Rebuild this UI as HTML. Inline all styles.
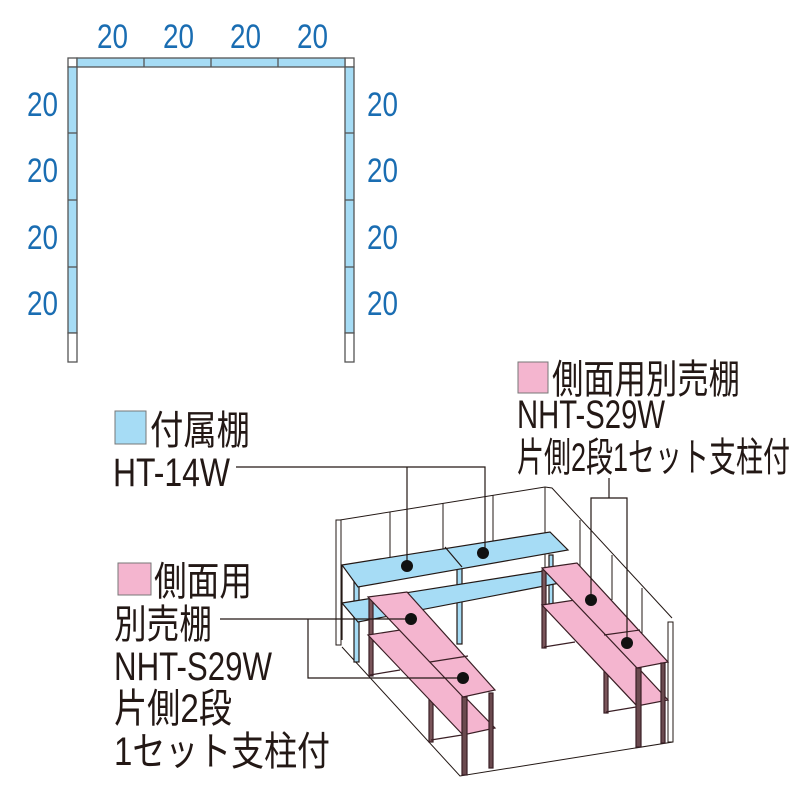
<!DOCTYPE html>
<html><head><meta charset="utf-8"><style>
html,body{margin:0;padding:0;background:#fff;width:800px;height:800px;overflow:hidden}
svg{display:block}
.d{font-family:"Liberation Sans Narrow","Liberation Sans",sans-serif;font-size:34px;fill:#1a6db2}
.t{font-family:"Liberation Sans Narrow","Liberation Sans","Noto Sans CJK JP",sans-serif;font-size:40px;fill:#231815}
</style></head><body>
<svg width="800" height="800" viewBox="0 0 800 800" xmlns="http://www.w3.org/2000/svg">
<g stroke="#555" stroke-width="1.3">
<rect x="68" y="58" width="9" height="9" fill="#fff"/>
<rect x="345" y="58" width="9" height="9" fill="#fff"/>
<rect x="77" y="58" width="268" height="9" fill="#a6dcf5"/>
<line x1="144" y1="58" x2="144" y2="67"/><line x1="211" y1="58" x2="211" y2="67"/><line x1="278" y1="58" x2="278" y2="67"/>
<rect x="68" y="67" width="9" height="266" fill="#a6dcf5"/>
<rect x="345" y="67" width="9" height="266" fill="#a6dcf5"/>
<line x1="68" y1="133" x2="77" y2="133"/><line x1="68" y1="200" x2="77" y2="200"/><line x1="68" y1="267" x2="77" y2="267"/>
<line x1="345" y1="133" x2="354" y2="133"/><line x1="345" y1="200" x2="354" y2="200"/><line x1="345" y1="267" x2="354" y2="267"/>
<rect x="68" y="333" width="9" height="29" fill="#fff"/>
<rect x="345" y="333" width="9" height="29" fill="#fff"/>
</g>
<g class="d">
<text x="97" y="48" textLength="31" lengthAdjust="spacingAndGlyphs">20</text>
<text x="163" y="48" textLength="31" lengthAdjust="spacingAndGlyphs">20</text>
<text x="230" y="48" textLength="31" lengthAdjust="spacingAndGlyphs">20</text>
<text x="297" y="48" textLength="31" lengthAdjust="spacingAndGlyphs">20</text>
<text x="27" y="116" textLength="31" lengthAdjust="spacingAndGlyphs">20</text>
<text x="27" y="182" textLength="31" lengthAdjust="spacingAndGlyphs">20</text>
<text x="27" y="249" textLength="31" lengthAdjust="spacingAndGlyphs">20</text>
<text x="27" y="315" textLength="31" lengthAdjust="spacingAndGlyphs">20</text>
<text x="367" y="116" textLength="31" lengthAdjust="spacingAndGlyphs">20</text>
<text x="367" y="182" textLength="31" lengthAdjust="spacingAndGlyphs">20</text>
<text x="367" y="249" textLength="31" lengthAdjust="spacingAndGlyphs">20</text>
<text x="367" y="315" textLength="31" lengthAdjust="spacingAndGlyphs">20</text>
</g>
<rect x="115" y="411" width="31" height="33" fill="#a6dcf5" stroke="#777"/>
<text class="t" x="150" y="444" textLength="100" lengthAdjust="spacingAndGlyphs">付属棚</text>
<text class="t" x="113" y="486" textLength="117" lengthAdjust="spacingAndGlyphs">HT-14W</text>
<rect x="518" y="362" width="30" height="31" fill="#f4b5cf" stroke="#777"/>
<text class="t" x="552" y="393" textLength="188" lengthAdjust="spacingAndGlyphs">側面用別売棚</text>
<text class="t" x="517" y="428" textLength="148" lengthAdjust="spacingAndGlyphs">NHT-S29W</text>
<text class="t" x="517" y="471" textLength="273" lengthAdjust="spacingAndGlyphs">片側2段1セット支柱付</text>
<rect x="118" y="563" width="33" height="32" fill="#f4b5cf" stroke="#777"/>
<text class="t" x="154" y="595" textLength="98" lengthAdjust="spacingAndGlyphs">側面用</text>
<text class="t" x="114" y="638" textLength="98" lengthAdjust="spacingAndGlyphs">別売棚</text>
<text class="t" x="114" y="680" textLength="158" lengthAdjust="spacingAndGlyphs">NHT-S29W</text>
<text class="t" x="114" y="722" textLength="118" lengthAdjust="spacingAndGlyphs">片側2段</text>
<text class="t" x="114" y="765" textLength="216" lengthAdjust="spacingAndGlyphs">1セット支柱付</text>
<g stroke="#231815" stroke-width="1" fill="none">
<polyline points="340,520 545,487 552,488 672,618"/>
<polyline points="342,647 460,776 673,742"/>
<rect x="336" y="520" width="5" height="125" fill="#fff"/>
<rect x="668" y="622" width="5" height="120" fill="#fff"/>
<line x1="545" y1="487" x2="545" y2="575"/>
<line x1="390" y1="512" x2="390" y2="560"/>
<line x1="443" y1="503" x2="443" y2="555"/>
<line x1="493" y1="495" x2="493" y2="545"/>
<line x1="580" y1="520" x2="580" y2="600"/>
<line x1="612" y1="555" x2="612" y2="600"/>
<line x1="642" y1="588" x2="642" y2="640"/>
</g>
<g stroke="#231815" stroke-width="1.2" fill="#a6dcf5">
<rect x="354" y="572" width="5" height="90"/>
<rect x="457" y="567" width="5" height="77"/>
<rect x="549" y="555" width="4" height="55"/>
<polygon points="342,603 550,570 565,582 358,622"/>
<polygon points="342,565 550,532 568,550 358,587"/>
<line x1="445" y1="547" x2="462" y2="567"/>
<polyline points="342,565 342,640"/>
</g>
<g stroke="#3a1f25" stroke-width="1.2" fill="#f4b5cf">
<rect x="369" y="598" width="4" height="78" fill="#7a555a"/>
<rect x="429" y="662" width="4" height="80" fill="#7a555a"/>
<line x1="370" y1="675" x2="400" y2="670"/>
<line x1="431" y1="740" x2="462" y2="735"/>
<polygon points="368,635 400,630 495,728 463,735"/>
<polygon points="368,597 407,592 495,690 463,697"/>
<line x1="430" y1="662" x2="468" y2="656"/>
<rect x="462" y="697" width="5" height="78" fill="#6b4a4f"/>
<rect x="489" y="693" width="4" height="75" fill="#6b4a4f"/>
<rect x="542" y="570" width="4" height="78" fill="#7a555a"/>
<rect x="604" y="635" width="4" height="78" fill="#7a555a"/>
<line x1="544" y1="647" x2="575" y2="642"/>
<line x1="606" y1="712" x2="636" y2="707"/>
<polygon points="542,605 575,600 668,700 637,706"/>
<polygon points="542,568 577,563 668,662 637,668"/>
<line x1="604" y1="635" x2="640" y2="630"/>
<rect x="636" y="668" width="5" height="79" fill="#6b4a4f"/>
<rect x="661" y="663" width="4" height="80" fill="#6b4a4f"/>
</g>
<g stroke="#231815" stroke-width="1.2" fill="none">
<polyline points="236,467 485,467 485,553"/>
<line x1="407" y1="467" x2="407" y2="566"/>
<polyline points="609,478 609,498"/>
<polyline points="591,600 591,498 627,498 627,643"/>
<polyline points="220,619 411,619"/>
<polyline points="308,619 308,678 463,678"/>
</g>
<g fill="#111">
<circle cx="407" cy="566" r="6"/><circle cx="483" cy="553" r="6"/>
<circle cx="411" cy="619" r="6"/><circle cx="463" cy="678" r="6"/>
<circle cx="591" cy="600" r="6"/><circle cx="627" cy="643" r="6"/>
</g>
</svg>
</body></html>
